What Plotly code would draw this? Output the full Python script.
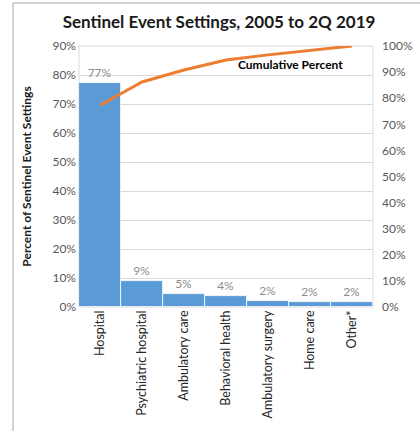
import plotly.graph_objects as go

categories = ["Hospital", "Psychiatric hospital", "Ambulatory care", "Behavioral health",
              "Ambulatory surgery", "Home care", "Other*"]
percent = [77.3, 8.9, 4.6, 3.8, 2.0, 1.8, 1.6]
bar_labels = ["77%", "9%", "5%", "4%", "2%", "2%", "2%"]
cumulative = [77.3, 86.2, 90.8, 94.6, 96.6, 98.4, 100.0]
left_ticks = [0, 10, 20, 30, 40, 50, 60, 70, 80, 90]
right_ticks = [0, 10, 20, 30, 40, 50, 60, 70, 80, 90, 100]

W, H = 420, 431
L, R, T, B = 79, 373, 46, 307
FONT = "Lato, Open Sans, sans-serif"

def px(x):
    return (x - L) / (R - L)

def py(y):
    return (B - y) / (B - T)

fig = go.Figure()
fig.add_trace(go.Bar(
    x=categories, y=percent, text=bar_labels, textposition="outside",
    textfont=dict(color="#8c8c8c", size=12, family=FONT),
    marker=dict(color="#5B9BD5", line=dict(color="white", width=0.8)),
    cliponaxis=False, showlegend=False, yaxis="y"))
fig.add_trace(go.Scatter(
    x=categories, y=cumulative, mode="lines",
    line=dict(color="#ED7D31", width=3), showlegend=False, yaxis="y2"))

fig.update_layout(
    width=W, height=H,
    margin=dict(l=L, r=W - R, t=T, b=H - B, autoexpand=False),
    paper_bgcolor="white", plot_bgcolor="white",
    bargap=0.0,
    font=dict(family=FONT, size=12, color="#595959"),
    title=dict(text="<b>Sentinel Event Settings, 2005 to 2Q 2019</b>",
               x=px(219), xref="paper", xanchor="center",
               y=1 - 22 / H, yanchor="middle",
               font=dict(size=17, color="#1a1a1a", family=FONT)),
    xaxis=dict(tickangle=-90, showgrid=False, showline=False, ticks="",
               automargin=False,
               tickfont=dict(size=12.5, color="#262626", family=FONT)),
    yaxis=dict(range=[0, 90], tickvals=left_ticks,
               ticktext=[f"{v}%" for v in left_ticks],
               showgrid=True, gridcolor="#d9d9d9", gridwidth=1,
               zeroline=False, showline=False, ticks="", automargin=False,
               ticklabelstandoff=2,
               tickfont=dict(size=12, color="#595959"),
               title=dict(text="<b>Percent of Sentinel Event Settings</b>",
                          font=dict(size=12, color="#1a1a1a"), standoff=18)),
    yaxis2=dict(range=[0, 100], tickvals=right_ticks,
                ticktext=[f"{v}%" for v in right_ticks],
                overlaying="y", side="right", showgrid=False, zeroline=False,
                showline=False, ticks="", automargin=False,
                ticklabelstandoff=8,
                tickfont=dict(size=12, color="#595959")),
    annotations=[dict(text="<b>Cumulative Percent</b>", x=px(290), y=py(64),
                      xref="paper", yref="paper", showarrow=False,
                      xanchor="center", yanchor="middle",
                      font=dict(size=12, color="#000000", family=FONT))],
    shapes=[
        dict(type="rect", xref="paper", yref="paper", x0=0, x1=1, y0=0, y1=1,
             line=dict(color="#d9d9d9", width=1), layer="below"),
        dict(type="path", xref="paper", yref="paper",
             path=f"M {px(13)},{py(H + 5)} L {px(13)},{py(3)} L {px(W + 5)},{py(3)}",
             line=dict(color="#a6a6a6", width=1)),
    ],
)

fig.write_html("out.html", config={"displayModeBar": False},
               post_script="document.body.style.margin='0';document.body.style.overflow='hidden';")
